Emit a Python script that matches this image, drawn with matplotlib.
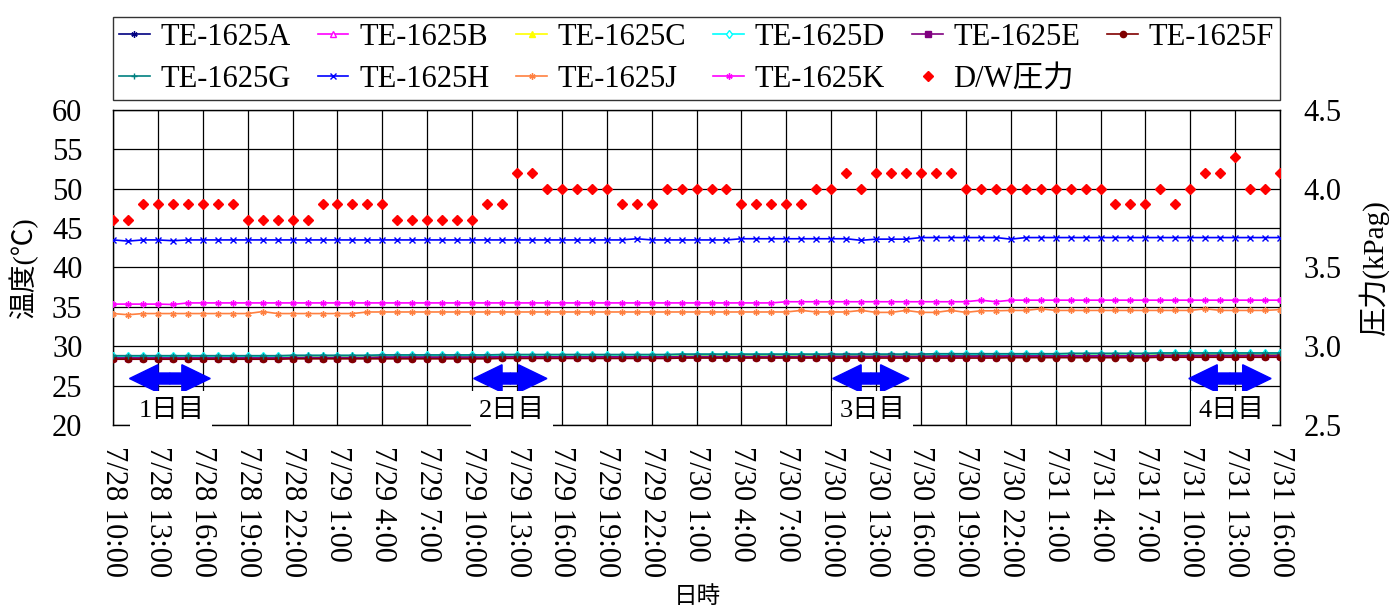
import matplotlib
matplotlib.use("Agg")
import matplotlib.pyplot as plt

plt.rcParams['font.family'] = ['Liberation Serif', 'Noto Sans CJK JP']

# hourly readings, 7/28 10:00 -> 7/31 16:00
hours = list(range(79))

tick_labels = [
    '7/28 10:00', '7/28 13:00', '7/28 16:00', '7/28 19:00', '7/28 22:00',
    '7/29 1:00', '7/29 4:00', '7/29 7:00', '7/29 10:00', '7/29 13:00',
    '7/29 16:00', '7/29 19:00', '7/29 22:00',
    '7/30 1:00', '7/30 4:00', '7/30 7:00', '7/30 10:00', '7/30 13:00',
    '7/30 16:00', '7/30 19:00', '7/30 22:00',
    '7/31 1:00', '7/31 4:00', '7/31 7:00', '7/31 10:00', '7/31 13:00',
    '7/31 16:00',
]

te_a = [28.6, 28.6, 28.6, 28.6, 28.6, 28.6, 28.6, 28.6, 28.6, 28.6,
        28.6, 28.6, 28.65, 28.65, 28.65, 28.65, 28.65, 28.65, 28.7, 28.7,
        28.7, 28.7, 28.7, 28.7, 28.7, 28.7, 28.75, 28.75, 28.75, 28.75,
        28.75, 28.75, 28.75, 28.75, 28.75, 28.75, 28.75, 28.75, 28.8, 28.8,
        28.8, 28.8, 28.8, 28.8, 28.8, 28.8, 28.8, 28.8, 28.8, 28.8,
        28.8, 28.8, 28.8, 28.8, 28.8, 28.85, 28.85, 28.85, 28.85, 28.85,
        28.85, 28.85, 28.85, 28.85, 28.9, 28.9, 28.9, 28.9, 28.9, 28.9,
        28.95, 28.95, 28.95, 28.95, 28.95, 28.95, 28.95, 28.95, 28.95]
te_b = [28.45, 28.45, 28.45, 28.45, 28.45, 28.45, 28.45, 28.45, 28.45, 28.45,
        28.45, 28.45, 28.5, 28.5, 28.5, 28.5, 28.5, 28.5, 28.55, 28.55,
        28.55, 28.55, 28.55, 28.55, 28.55, 28.55, 28.6, 28.6, 28.6, 28.6,
        28.6, 28.6, 28.6, 28.6, 28.6, 28.6, 28.6, 28.6, 28.6, 28.6,
        28.6, 28.6, 28.6, 28.6, 28.6, 28.6, 28.6, 28.6, 28.65, 28.65,
        28.65, 28.65, 28.65, 28.65, 28.65, 28.65, 28.65, 28.65, 28.65, 28.65,
        28.7, 28.7, 28.7, 28.7, 28.7, 28.7, 28.7, 28.7, 28.7, 28.7,
        28.75, 28.75, 28.75, 28.75, 28.75, 28.75, 28.75, 28.75, 28.75]
te_c = [28.7, 28.7, 28.7, 28.7, 28.7, 28.7, 28.7, 28.7, 28.7, 28.7,
        28.7, 28.7, 28.75, 28.75, 28.75, 28.75, 28.75, 28.75, 28.8, 28.8,
        28.8, 28.8, 28.8, 28.8, 28.8, 28.8, 28.85, 28.85, 28.85, 28.85,
        28.85, 28.85, 28.85, 28.85, 28.85, 28.85, 28.85, 28.85, 28.9, 28.9,
        28.9, 28.9, 28.9, 28.9, 28.9, 28.9, 28.9, 28.9, 28.9, 28.9,
        28.9, 28.9, 28.9, 28.9, 28.9, 28.95, 28.95, 28.95, 28.95, 28.95,
        28.95, 28.95, 28.95, 28.95, 29.0, 29.0, 29.0, 29.0, 29.0, 29.0,
        29.05, 29.05, 29.05, 29.05, 29.05, 29.05, 29.05, 29.05, 29.05]
te_d = [28.75, 28.75, 28.75, 28.75, 28.75, 28.75, 28.75, 28.75, 28.75, 28.75,
        28.75, 28.75, 28.8, 28.8, 28.8, 28.8, 28.8, 28.8, 28.85, 28.85,
        28.85, 28.85, 28.85, 28.85, 28.85, 28.85, 28.9, 28.9, 28.9, 28.9,
        28.9, 28.9, 28.9, 28.9, 28.9, 28.9, 28.9, 28.9, 28.95, 28.95,
        28.95, 28.95, 28.95, 28.95, 28.95, 28.95, 28.95, 28.95, 28.95, 28.95,
        28.95, 28.95, 28.95, 28.95, 28.95, 29.0, 29.0, 29.0, 29.0, 29.0,
        29.0, 29.0, 29.0, 29.0, 29.05, 29.05, 29.05, 29.05, 29.05, 29.05,
        29.1, 29.1, 29.1, 29.1, 29.1, 29.1, 29.1, 29.1, 29.1]
te_e = [28.5, 28.5, 28.5, 28.5, 28.5, 28.5, 28.5, 28.5, 28.5, 28.5,
        28.5, 28.5, 28.55, 28.55, 28.55, 28.55, 28.55, 28.55, 28.6, 28.6,
        28.6, 28.6, 28.6, 28.6, 28.6, 28.6, 28.65, 28.65, 28.65, 28.65,
        28.65, 28.65, 28.65, 28.65, 28.65, 28.65, 28.65, 28.65, 28.65, 28.65,
        28.65, 28.65, 28.65, 28.65, 28.65, 28.65, 28.65, 28.65, 28.7, 28.7,
        28.7, 28.7, 28.7, 28.7, 28.7, 28.7, 28.7, 28.7, 28.7, 28.7,
        28.75, 28.75, 28.75, 28.75, 28.75, 28.75, 28.75, 28.75, 28.75, 28.75,
        28.8, 28.8, 28.8, 28.8, 28.8, 28.8, 28.8, 28.8, 28.8]
te_f = [28.35, 28.35, 28.35, 28.35, 28.35, 28.35, 28.35, 28.35, 28.35, 28.35,
        28.35, 28.35, 28.4, 28.4, 28.4, 28.4, 28.4, 28.4, 28.4, 28.4,
        28.4, 28.4, 28.4, 28.4, 28.4, 28.4, 28.45, 28.45, 28.45, 28.45,
        28.45, 28.45, 28.45, 28.45, 28.45, 28.45, 28.45, 28.45, 28.5, 28.5,
        28.5, 28.5, 28.5, 28.5, 28.5, 28.5, 28.5, 28.5, 28.5, 28.5,
        28.5, 28.5, 28.5, 28.5, 28.5, 28.5, 28.5, 28.5, 28.5, 28.5,
        28.55, 28.55, 28.55, 28.55, 28.55, 28.55, 28.55, 28.55, 28.55, 28.55,
        28.6, 28.6, 28.6, 28.6, 28.6, 28.6, 28.6, 28.6, 28.6]
te_g = [28.8, 28.8, 28.8, 28.8, 28.8, 28.8, 28.8, 28.8, 28.8, 28.8,
        28.8, 28.8, 28.85, 28.85, 28.85, 28.85, 28.85, 28.85, 28.9, 28.9,
        28.9, 28.9, 28.9, 28.9, 28.9, 28.9, 28.95, 28.95, 28.95, 28.95,
        28.95, 28.95, 28.95, 28.95, 28.95, 28.95, 28.95, 28.95, 29.0, 29.0,
        29.0, 29.0, 29.0, 29.0, 29.0, 29.0, 29.0, 29.0, 29.0, 29.0,
        29.0, 29.0, 29.0, 29.0, 29.0, 29.05, 29.05, 29.05, 29.05, 29.05,
        29.05, 29.05, 29.05, 29.05, 29.1, 29.1, 29.1, 29.1, 29.1, 29.1,
        29.15, 29.15, 29.15, 29.15, 29.15, 29.15, 29.15, 29.15, 29.15]
te_h = [43.5, 43.35, 43.5, 43.5, 43.4, 43.5, 43.5, 43.5, 43.5, 43.5,
        43.5, 43.5, 43.5, 43.5, 43.5, 43.5, 43.5, 43.5, 43.5, 43.5,
        43.5, 43.5, 43.5, 43.5, 43.5, 43.5, 43.5, 43.5, 43.5, 43.5,
        43.5, 43.5, 43.5, 43.5, 43.5, 43.65, 43.5, 43.5, 43.5, 43.5,
        43.5, 43.5, 43.65, 43.65, 43.65, 43.65, 43.65, 43.65, 43.65, 43.65,
        43.45, 43.6, 43.6, 43.6, 43.8, 43.8, 43.8, 43.8, 43.8, 43.8,
        43.6, 43.8, 43.8, 43.8, 43.8, 43.8, 43.8, 43.8, 43.8, 43.8,
        43.8, 43.8, 43.8, 43.8, 43.8, 43.8, 43.8, 43.8, 43.8]
te_j = [34.15, 34.0, 34.15, 34.15, 34.15, 34.15, 34.15, 34.15, 34.15, 34.15,
        34.4, 34.15, 34.15, 34.15, 34.15, 34.15, 34.15, 34.35, 34.35, 34.35,
        34.35, 34.35, 34.35, 34.35, 34.35, 34.35, 34.35, 34.35, 34.35, 34.35,
        34.35, 34.35, 34.35, 34.35, 34.35, 34.35, 34.35, 34.35, 34.35, 34.35,
        34.35, 34.35, 34.35, 34.35, 34.35, 34.35, 34.55, 34.35, 34.35, 34.35,
        34.55, 34.3, 34.3, 34.55, 34.3, 34.3, 34.55, 34.3, 34.5, 34.5,
        34.55, 34.55, 34.75, 34.55, 34.55, 34.55, 34.55, 34.55, 34.55, 34.55,
        34.55, 34.55, 34.55, 34.75, 34.55, 34.55, 34.55, 34.55, 34.65]
te_k = [35.35, 35.35, 35.35, 35.35, 35.3, 35.5, 35.5, 35.5, 35.5, 35.5,
        35.5, 35.5, 35.5, 35.5, 35.5, 35.5, 35.5, 35.5, 35.5, 35.5,
        35.5, 35.5, 35.5, 35.5, 35.5, 35.5, 35.5, 35.5, 35.5, 35.5,
        35.5, 35.5, 35.5, 35.5, 35.5, 35.5, 35.5, 35.5, 35.5, 35.5,
        35.5, 35.5, 35.5, 35.5, 35.5, 35.65, 35.65, 35.65, 35.65, 35.65,
        35.65, 35.65, 35.65, 35.65, 35.65, 35.65, 35.65, 35.65, 35.85, 35.65,
        35.85, 35.85, 35.85, 35.85, 35.85, 35.85, 35.85, 35.85, 35.85, 35.85,
        35.85, 35.85, 35.85, 35.85, 35.85, 35.85, 35.85, 35.85, 35.85]

# D/W pressure (kPag)
dw_pressure = [3.8, 3.8, 3.9, 3.9, 3.9, 3.9, 3.9, 3.9, 3.9, 3.8,
               3.8, 3.8, 3.8, 3.8, 3.9, 3.9, 3.9, 3.9, 3.9, 3.8,
               3.8, 3.8, 3.8, 3.8, 3.8, 3.9, 3.9, 4.1, 4.1, 4.0,
               4.0, 4.0, 4.0, 4.0, 3.9, 3.9, 3.9, 4.0, 4.0, 4.0,
               4.0, 4.0, 3.9, 3.9, 3.9, 3.9, 3.9, 4.0, 4.0, 4.1,
               4.0, 4.1, 4.1, 4.1, 4.1, 4.1, 4.1, 4.0, 4.0, 4.0,
               4.0, 4.0, 4.0, 4.0, 4.0, 4.0, 4.0, 3.9, 3.9, 3.9,
               4.0, 3.9, 4.0, 4.1, 4.1, 4.2, 4.0, 4.0, 4.1]

# test days: (start hour, end hour, label)
day_spans = [(1.1, 6.5, '1日目'), (24.1, 29.0, '2日目'),
             (48.1, 53.2, '3日目'), (71.9, 77.4, '4日目')]

star = (6, 2, 0)
series = [
    ('TE-1625A', te_a, '#000080', star, '#000080'),
    ('TE-1625B', te_b, '#FF00FF', '^', 'white'),
    ('TE-1625C', te_c, '#FFFF00', '^', '#FFFF00'),
    ('TE-1625D', te_d, '#00FFFF', 'd', 'white'),
    ('TE-1625E', te_e, '#800080', 's', '#800080'),
    ('TE-1625F', te_f, '#800000', 'o', '#800000'),
    ('TE-1625G', te_g, '#008080', '+', '#008080'),
    ('TE-1625H', te_h, '#0000FF', 'x', '#0000FF'),
    ('TE-1625J', te_j, '#FF8040', star, '#FF8040'),
    ('TE-1625K', te_k, '#FF00FF', star, '#FF00FF'),
]

fig = plt.figure(figsize=(13.92, 6.10), dpi=100)
ax = fig.add_axes([0.0812, 0.3033, 0.8384, 0.5164])

handles = {}
for name, vals, color, marker, face in series:
    ln, = ax.plot(hours, vals, color=color, lw=1.2, marker=marker,
                  markersize=4.5, markerfacecolor=face, markeredgecolor=color,
                  markeredgewidth=1.0, label=name, zorder=3)
    handles[name] = ln

ax.set_xlim(0, 78)
ax.set_ylim(20, 60)
ax.set_yticks(range(20, 61, 5))
ax.set_xticks(range(0, 79, 3))
ax.set_xticklabels(tick_labels, rotation=-90, va='top', ha='center')
ax.grid(True, color='black', lw=0.9)
ax.tick_params(axis='both', length=0, labelsize=22)
ax.tick_params(axis='y', pad=22)
ax.tick_params(axis='x', pad=15)
for sp in ax.spines.values():
    sp.set_color('black')
    sp.set_linewidth(1.0)

ax.set_ylabel('温度(℃)', fontsize=20, rotation=90, va='center')
ax.yaxis.set_label_coords(-0.077, 0.5)
ax.text(0.501, -0.546, '日時', transform=ax.transAxes, fontsize=17,
        ha='center', va='center')

# blue double arrows and day labels
for x0, x1, label in day_spans:
    mid = (x0 + x1) / 2
    for end in (x0, x1):
        ax.arrow(mid, 25.9, end - mid, 0, width=1.4, head_width=3.5,
                 head_length=1.9, length_includes_head=True,
                 color='#0000FF', zorder=6)
    ax.text(mid + 0.1, 21.9, label, fontsize=19, ha='center', va='center',
            zorder=7, clip_on=False,
            bbox=dict(boxstyle='square,pad=0.3', fc='white', ec='none'))

ax2 = ax.twinx()
dw, = ax2.plot(hours, dw_pressure, ls='none', marker='D', markersize=5.5,
               color='#FF0000', label='D/W圧力', zorder=4)
ax2.set_ylim(2.5, 4.5)
ax2.set_yticks([2.5, 3.0, 3.5, 4.0, 4.5])
ax2.set_yticklabels(['2.5', '3.0', '3.5', '4.0', '4.5'])
ax2.tick_params(axis='y', length=0, labelsize=22, pad=17)
for sp in ax2.spines.values():
    sp.set_visible(False)
ax2.set_ylabel('圧力(kPag)', fontsize=21, rotation=90, va='center')
ax2.yaxis.set_label_coords(1.08, 0.5)

# legend is filled column by column, so order it to read across rows
order = ['TE-1625A', 'TE-1625G', 'TE-1625B', 'TE-1625H', 'TE-1625C',
         'TE-1625J', 'TE-1625D', 'TE-1625K', 'TE-1625E', None, 'TE-1625F']
leg_handles = [handles[n] if n else dw for n in order]
leg_labels = [n if n else 'D/W圧力' for n in order]
leg = fig.legend(leg_handles, leg_labels, loc='lower left',
                 bbox_to_anchor=(0.0812, 0.836, 0.8384, 0.139), mode='expand',
                 ncol=6, fontsize=22, frameon=True, fancybox=False,
                 borderaxespad=0, handlelength=1.0, handletextpad=0.35,
                 labelspacing=0.42, borderpad=0.2)
leg.get_frame().set_edgecolor('black')
leg.get_frame().set_linewidth(1.0)

fig.savefig('out.png', dpi=100)
